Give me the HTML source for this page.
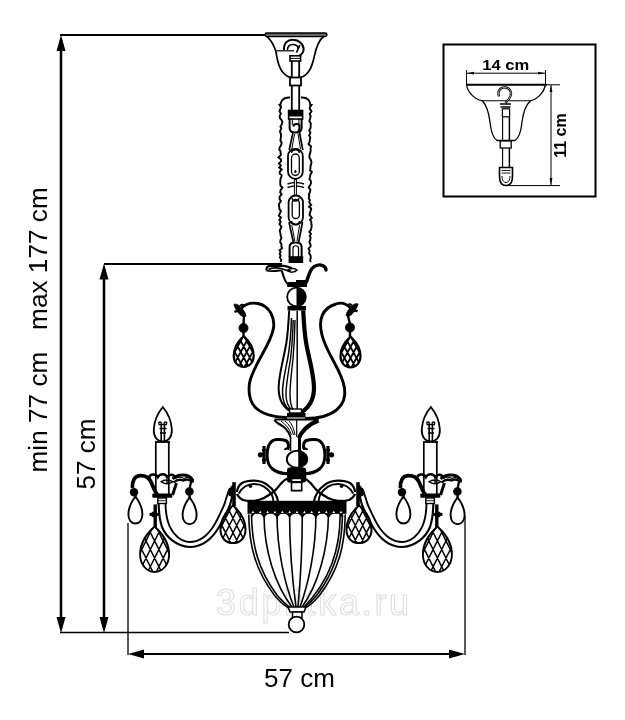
<!DOCTYPE html>
<html><head><meta charset="utf-8">
<style>
html,body{margin:0;padding:0;background:#fff;width:625px;height:720px;overflow:hidden}
svg{display:block;will-change:transform}
text{font-family:"Liberation Sans",sans-serif}
</style></head>
<body>
<svg width="625" height="720" viewBox="0 0 625 720">
<defs>
  <pattern id="hatch" patternUnits="userSpaceOnUse" width="4.8" height="6.6">
    <rect width="4.8" height="6.6" fill="#fff"/>
    <path d="M-0.5,-0.7 L5.3,7.3 M5.3,-0.7 L-0.5,7.3" stroke="#000" stroke-width="1.35"/>
  </pattern>
  <clipPath id="cpine"><path d="M0,-23 C8,-16 14.5,-6 14.5,5 C14.5,15 8,22.5 0,22.5 C-8,22.5 -14.5,15 -14.5,5 C-14.5,-6 -8,-16 0,-23 Z"/></clipPath>
  <clipPath id="cpineS"><path d="M0,-16 C5.5,-11 10,-4 10,3.5 C10,10.5 5.5,15 0,15 C-5.5,15 -10,10.5 -10,3.5 C-10,-4 -5.5,-11 0,-16 Z"/></clipPath>
  <g id="pine">
    <g clip-path="url(#cpine)"><path d="M-20.00,89.00 L20.00,169.00 M-20.00,-89.00 L20.00,-169.00 M-20.00,71.80 L20.00,151.80 M-20.00,-71.80 L20.00,-151.80 M-20.00,54.60 L20.00,134.60 M-20.00,-54.60 L20.00,-134.60 M-20.00,37.40 L20.00,117.40 M-20.00,-37.40 L20.00,-117.40 M-20.00,20.20 L20.00,100.20 M-20.00,-20.20 L20.00,-100.20 M-20.00,3.00 L20.00,83.00 M-20.00,-3.00 L20.00,-83.00 M-20.00,-14.20 L20.00,65.80 M-20.00,14.20 L20.00,-65.80 M-20.00,-31.40 L20.00,48.60 M-20.00,31.40 L20.00,-48.60 M-20.00,-48.60 L20.00,31.40 M-20.00,48.60 L20.00,-31.40 M-20.00,-65.80 L20.00,14.20 M-20.00,65.80 L20.00,-14.20 M-20.00,-83.00 L20.00,-3.00 M-20.00,83.00 L20.00,3.00 M-20.00,-100.20 L20.00,-20.20 M-20.00,100.20 L20.00,20.20 M-20.00,-117.40 L20.00,-37.40 M-20.00,117.40 L20.00,37.40 M-20.00,-134.60 L20.00,-54.60 M-20.00,134.60 L20.00,54.60 M-20.00,-151.80 L20.00,-71.80 M-20.00,151.80 L20.00,71.80 M-20.00,-169.00 L20.00,-89.00 M-20.00,169.00 L20.00,89.00 M-20.00,-186.20 L20.00,-106.20 M-20.00,186.20 L20.00,106.20" stroke="#000" stroke-width="1.5" fill="none"/></g>
    <path d="M0,-23 C8,-16 14.5,-6 14.5,5 C14.5,15 8,22.5 0,22.5 C-8,22.5 -14.5,15 -14.5,5 C-14.5,-6 -8,-16 0,-23 Z" fill="none" stroke="#000" stroke-width="1.9"/>
  </g>
  <g id="pineS">
    <g clip-path="url(#cpineS)"><path d="M-15.00,55.00 L15.00,110.00 M-15.00,-55.00 L15.00,-110.00 M-15.00,44.00 L15.00,99.00 M-15.00,-44.00 L15.00,-99.00 M-15.00,33.00 L15.00,88.00 M-15.00,-33.00 L15.00,-88.00 M-15.00,22.00 L15.00,77.00 M-15.00,-22.00 L15.00,-77.00 M-15.00,11.00 L15.00,66.00 M-15.00,-11.00 L15.00,-66.00 M-15.00,0.00 L15.00,55.00 M-15.00,0.00 L15.00,-55.00 M-15.00,-11.00 L15.00,44.00 M-15.00,11.00 L15.00,-44.00 M-15.00,-22.00 L15.00,33.00 M-15.00,22.00 L15.00,-33.00 M-15.00,-33.00 L15.00,22.00 M-15.00,33.00 L15.00,-22.00 M-15.00,-44.00 L15.00,11.00 M-15.00,44.00 L15.00,-11.00 M-15.00,-55.00 L15.00,0.00 M-15.00,55.00 L15.00,0.00 M-15.00,-66.00 L15.00,-11.00 M-15.00,66.00 L15.00,11.00 M-15.00,-77.00 L15.00,-22.00 M-15.00,77.00 L15.00,22.00 M-15.00,-88.00 L15.00,-33.00 M-15.00,88.00 L15.00,33.00 M-15.00,-99.00 L15.00,-44.00 M-15.00,99.00 L15.00,44.00 M-15.00,-110.00 L15.00,-55.00 M-15.00,110.00 L15.00,55.00 M-15.00,-121.00 L15.00,-66.00 M-15.00,121.00 L15.00,66.00" stroke="#000" stroke-width="1.8" fill="none"/></g>
    <path d="M0,-16 C5.5,-11 10,-4 10,3.5 C10,10.5 5.5,15 0,15 C-5.5,15 -10,10.5 -10,3.5 C-10,-4 -5.5,-11 0,-16 Z" fill="none" stroke="#000" stroke-width="2.2"/>
  </g>
  <clipPath id="cpineM"><path d="M0,-20 C7,-14 12.5,-5.5 12.5,4 C12.5,12.5 7,17.5 0,17.5 C-7,17.5 -12.5,12.5 -12.5,4 C-12.5,-5.5 -7,-14 0,-20 Z"/></clipPath>
  <g id="pineM">
    <g clip-path="url(#cpineM)"><path d="M-18.00,73.99 L18.00,145.01 M-18.00,-73.99 L18.00,-145.01 M-18.00,59.39 L18.00,130.41 M-18.00,-59.39 L18.00,-130.41 M-18.00,44.79 L18.00,115.81 M-18.00,-44.79 L18.00,-115.81 M-18.00,30.19 L18.00,101.21 M-18.00,-30.19 L18.00,-101.21 M-18.00,15.59 L18.00,86.61 M-18.00,-15.59 L18.00,-86.61 M-18.00,0.99 L18.00,72.01 M-18.00,-0.99 L18.00,-72.01 M-18.00,-13.61 L18.00,57.41 M-18.00,13.61 L18.00,-57.41 M-18.00,-28.21 L18.00,42.81 M-18.00,28.21 L18.00,-42.81 M-18.00,-42.81 L18.00,28.21 M-18.00,42.81 L18.00,-28.21 M-18.00,-57.41 L18.00,13.61 M-18.00,57.41 L18.00,-13.61 M-18.00,-72.01 L18.00,-0.99 M-18.00,72.01 L18.00,0.99 M-18.00,-86.61 L18.00,-15.59 M-18.00,86.61 L18.00,15.59 M-18.00,-101.21 L18.00,-30.19 M-18.00,101.21 L18.00,30.19 M-18.00,-115.81 L18.00,-44.79 M-18.00,115.81 L18.00,44.79 M-18.00,-130.41 L18.00,-59.39 M-18.00,130.41 L18.00,59.39 M-18.00,-145.01 L18.00,-73.99 M-18.00,145.01 L18.00,73.99 M-18.00,-159.61 L18.00,-88.59 M-18.00,159.61 L18.00,88.59" stroke="#000" stroke-width="1.5" fill="none"/></g>
    <path d="M0,-20 C7,-14 12.5,-5.5 12.5,4 C12.5,12.5 7,17.5 0,17.5 C-7,17.5 -12.5,12.5 -12.5,4 C-12.5,-5.5 -7,-14 0,-20 Z" fill="none" stroke="#000" stroke-width="2"/>
  </g>
  <g id="drop">
    <path d="M0,0 C3,4 7,11 7,18 C7,23.5 4,27 0,27 C-4,27 -7,23.5 -7,18 C-7,11 -3,4 0,0 Z" fill="#fff" stroke="#000" stroke-width="1.9"/>
    <path d="M0,-2 L0,2" stroke="#000" stroke-width="2.4"/>
  </g>
  <g id="fleur">
    <path d="M0,-7 L0,7 M-4,0 L4,0" stroke="#000" stroke-width="2.2"/>
    <circle cx="0" cy="-3" r="2" fill="#000"/>
  </g>
</defs>

<!-- watermark -->
<text x="216" y="614.5" font-size="36" fill="none" stroke="#e0e0e0" stroke-width="1.1" letter-spacing="2.7">3dplitka.ru</text>

<!-- ===== dimension lines ===== -->
<g stroke="#000" fill="none">
  <line x1="60" y1="35" x2="266" y2="35" stroke-width="2"/>
  <line x1="61" y1="40" x2="61" y2="628" stroke-width="2.5"/>
  <line x1="104" y1="264" x2="282" y2="264" stroke-width="2"/>
  <line x1="104" y1="270" x2="104" y2="628" stroke-width="2.5"/>
  <line x1="60" y1="632.5" x2="289" y2="632.5" stroke-width="1.3"/>
  <line x1="128" y1="523" x2="128" y2="655" stroke-width="1.3"/>
  <line x1="465" y1="516" x2="465" y2="655" stroke-width="1.3"/>
  <line x1="135" y1="654" x2="458" y2="654" stroke-width="2.2"/>
</g>
<g fill="#000">
  <path d="M61,35 L65.5,51 L56.5,51 Z"/>
  <path d="M61,633 L65.5,617 L56.5,617 Z"/>
  <path d="M104,263.5 L108.5,279.5 L99.5,279.5 Z"/>
  <path d="M104,633 L108.5,617 L99.5,617 Z"/>
  <path d="M128,654 L144,649.5 L144,658.5 Z"/>
  <path d="M465,654 L449,649.5 L449,658.5 Z"/>
</g>

<!-- dimension texts -->
<text transform="translate(46.8,472.5) rotate(-90)" font-size="26.2" fill="#000" xml:space="preserve">min 77 cm   max 177 cm</text>
<text transform="translate(94.9,489.5) rotate(-90)" font-size="26" fill="#000">57 cm</text>
<text x="264" y="687" font-size="26" fill="#000">57 cm</text>

<!-- ===== inset box ===== -->
<rect x="443.5" y="44.5" width="152" height="152" fill="none" stroke="#000" stroke-width="2"/>
<text x="482.3" y="70.3" font-size="15" font-weight="bold" fill="#000" textLength="47" lengthAdjust="spacingAndGlyphs">14 cm</text>
<g stroke="#000" fill="none" stroke-width="1">
  <line x1="466.5" y1="70" x2="466.5" y2="84"/>
  <line x1="545.5" y1="70" x2="545.5" y2="84"/>
  <line x1="467" y1="73.2" x2="545" y2="73.2"/>
  <line x1="545" y1="84.8" x2="560" y2="84.8"/>
  <line x1="506" y1="185.6" x2="560" y2="185.6"/>
  <line x1="551" y1="85" x2="551" y2="185"/>
</g>
<g fill="#000">
  <path d="M467,73.2 L474,71.8 L474,74.6Z"/>
  <path d="M545,73.2 L538,71.8 L538,74.6Z"/>
  <path d="M551,85 L549.6,92 L552.4,92Z"/>
  <path d="M551,185 L549.6,178 L552.4,178Z"/>
</g>
<text transform="translate(566,157.8) rotate(-90)" font-size="16" font-weight="bold" fill="#000" textLength="44.5" lengthAdjust="spacingAndGlyphs">11 cm</text>
<!-- inset canopy -->
<g stroke="#000" fill="none" stroke-width="1.3">
  <line x1="466" y1="84.8" x2="547" y2="84.8" stroke-width="2"/>
  <path d="M466.6,85 C467.5,92 474,99 482.4,100.8 C487,106 489,114 490,122 C491,132 493,138 497,140.5 L515,140.5 C519,138 521,132 522,122 C523,114 525,106 530.4,100.8 C538,99 544,92 545.5,85"/>
  <line x1="482.4" y1="100.8" x2="530.4" y2="100.8" stroke-width="1.1"/>
  <path d="M499,96.5 C497,90 501,87 505.5,87.5 C510,88 512,92 510.5,96 C509.5,99 507,101 505.5,103" stroke-width="2.3"/>
  <path d="M499,96.5 C497,90 501,87 505.5,87.5 C510,88 512,92 510.5,96 C509.5,99 507,101 505.5,103" stroke="#fff" stroke-width="0.6"/>
  <path d="M500,104 L511,104 M500.5,107 L510.5,107" stroke-width="1.5"/>
  <rect x="502.4" y="108.8" width="7.2" height="8" fill="#fff" stroke-width="1.2"/>
  <line x1="502.6" y1="117" x2="502.6" y2="141" stroke-width="1.1"/>
  <line x1="509.4" y1="117" x2="509.4" y2="141" stroke-width="1.5"/>
  <rect x="500.2" y="141" width="11" height="7" fill="#fff" stroke-width="1.3"/>
  <line x1="502.6" y1="148" x2="502.6" y2="167.5" stroke-width="1.1"/>
  <line x1="509.4" y1="148" x2="509.4" y2="167.5" stroke-width="1.5"/>
  <path d="M499.5,167.5 L499.5,176 C499.5,182 502,185.5 506,185.5 C510,185.5 512.5,182 512.5,176 L512.5,167.5 Z" fill="#fff" stroke-width="1.6"/>
  <path d="M502,176 C502,180 503.5,182.5 506,182.5 C508.5,182.5 510,180 510,176" stroke-width="1"/>
  <path d="M501.5,170.5 L510.5,170.5 M501.5,173 L510.5,173" stroke-width="0.9"/>
</g>

<!-- ===== chandelier ===== -->
<!-- canopy -->
<g stroke="#000" fill="none">
  <rect x="265" y="33" width="62" height="3.6" rx="1.8" fill="#666" stroke-width="1.3"/>
  <path d="M267,36.6 C271,40 274,45 276,52 C277,58 278,66 282,71.2 C285,75 288,77 291,77.5 M323.5,36.8 C319,40 316.5,46 314.5,55.6 C313,62 312,67 309,71 C306.5,74.5 303.5,77 300.5,77.5" stroke-width="1.7"/>
  <path d="M284,50 C283.5,43 288,39.5 293,39.8 C299,40 303.8,44 303.6,49.5 C303.4,52.5 301.5,54.5 299.5,55.5" stroke-width="2"/>
  <path d="M287.5,50 C287.5,46 290,44.5 292.8,44.5 C296,44.5 298,46.5 298.5,49" stroke-width="1.5"/>
  <path d="M299.8,45 L296.5,52.5" stroke-width="1.8"/>
  <line x1="276" y1="50.8" x2="294" y2="50.8" stroke-width="1.2"/>
  <rect x="290" y="55.8" width="10.6" height="5.2" stroke-width="1.6" fill="#fff"/>
  <line x1="290" y1="58.4" x2="300.6" y2="58.4" stroke-width="1"/>
  <line x1="291.8" y1="61" x2="291.8" y2="77.5" stroke-width="1.8"/>
  <line x1="299.2" y1="61" x2="299.2" y2="77.5" stroke-width="1.8"/>
  <rect x="290" y="77.5" width="11" height="8" stroke-width="1.8" fill="#fff"/>
  <line x1="291.8" y1="85.5" x2="291.8" y2="110.5" stroke-width="1.8"/>
  <line x1="299.2" y1="85.5" x2="299.2" y2="110.5" stroke-width="1.8"/>
</g>
<!-- sleeve -->
<path d="M290,97.5 C286.5,97.3 283.5,98.5 282,100.5 C281,102 280.5,103.5 280.5,105 L279.7,105.0 L281.1,107.2 L280.2,109.2 L279.5,111.4 L280.9,113.5 L279.7,115.9 L279.8,117.8 L281.6,120.2 L282.4,121.9 L281.7,124.4 L280.4,126.7 L281.4,128.3 L280.5,129.9 L280.0,131.8 L280.9,133.8 L281.0,136.3 L280.7,138.5 L280.4,140.8 L281.7,142.7 L281.1,145.3 L279.5,147.6 L279.3,149.4 L280.5,151.1 L280.6,153.1 L280.9,155.0 L278.4,157.5 L280.8,159.3 L281.1,161.4 L278.9,163.4 L280.9,165.6 L279.2,167.5 L281.7,169.4 L279.7,171.8 L279.8,173.6 L281.7,175.3 L281.2,177.0 L280.4,179.1 L280.3,181.4 L280.3,183.7 L280.5,185.7 L282.5,187.6 L280.6,190.0 L280.2,192.4 L281.7,194.4 L279.6,196.7 L279.6,199.3 L280.9,201.1 L279.5,203.1 L278.9,204.7 L279.2,206.9 L279.4,209.1 L280.9,211.2 L279.9,213.3 L278.9,215.7 L280.9,217.5 L279.3,219.9 L280.7,221.7 L279.5,224.2 L281.5,226.8 L280.5,229.0 L279.7,230.7 L280.4,233.2 L280.6,235.5 L281.5,238.0 L280.5,239.9 L280.2,242.2 L281.4,244.0 L281.4,246.5 L282.1,248.3 L279.6,250.2 L280.6,252.0 L279.7,253.7 L280.6,255.6 L279.9,257.4 L281.3,259.9 L280.5,262.0 M301,97.5 C304.5,97.3 307.5,98.5 309,100.5 C310,102 310.2,103.5 310.2,105 L311.4,105.0 L310.0,107.2 L309.7,108.8 L311.5,111.3 L309.7,113.9 L310.7,116.1 L310.1,118.5 L309.3,121.1 L310.8,123.2 L310.6,125.7 L310.6,128.0 L309.2,130.5 L310.5,132.8 L309.2,135.3 L310.3,137.7 L309.8,139.8 L309.7,141.8 L308.5,144.0 L311.0,146.3 L310.5,148.8 L310.7,150.7 L310.2,152.9 L309.4,155.4 L309.5,157.7 L310.8,159.9 L311.4,161.7 L311.3,163.8 L310.4,166.4 L310.5,168.0 L310.1,170.3 L311.9,172.0 L310.5,174.3 L310.0,176.8 L309.5,179.0 L310.9,181.1 L310.9,183.6 L309.9,185.6 L308.7,187.5 L310.4,189.6 L310.0,192.0 L308.8,194.6 L309.3,196.3 L308.7,198.2 L309.9,200.2 L309.2,202.3 L311.2,204.8 L309.0,206.8 L311.2,208.5 L310.9,210.1 L310.1,212.3 L309.5,214.7 L310.7,216.4 L311.8,218.0 L310.0,219.9 L311.3,221.5 L311.3,223.5 L311.7,225.8 L311.3,228.4 L310.7,230.2 L309.3,231.9 L311.0,234.0 L309.7,235.8 L310.6,237.7 L310.2,239.9 L309.4,242.2 L310.6,244.6 L310.6,246.3 L308.5,248.6 L309.7,250.7 L309.1,253.2 L310.5,255.3 L310.8,257.7 L310.2,259.8 L310.5,261.6 L310.2,262.0" fill="none" stroke="#000" stroke-width="1.9" stroke-linejoin="miter"/>
<g stroke="#000" fill="none">
  <!-- top connector -->
  <rect x="288.6" y="110.5" width="14" height="8.5" fill="#fff" stroke-width="1.6"/>
  <rect x="288.2" y="110.2" width="14.8" height="6.3" fill="#000" stroke="none"/>
  <!-- U bracket -->
  <path d="M289.6,119 L289.6,128 C289.6,131 292,132.5 295.5,132.5 C299,132.5 301.6,131 301.6,128 L301.6,119" stroke-width="2"/>
  <path d="M292.3,119 L292.3,125" stroke-width="1"/>
  <path d="M298.9,119 L298.9,125" stroke-width="1"/>
  <path d="M293.5,126.5 C293.5,123.5 299,123 299.5,126 C300,129 298.5,131 297.5,133" stroke-width="2"/>
  <!-- tapered link 1 -->
  <path d="M293,132.5 L289.2,150 M299.5,132.5 L302.8,150" stroke-width="1.7"/>
  <path d="M294.6,134 L291.8,149 M298,134 L300.5,149" stroke-width="1"/>
  <!-- link 1 -->
  <rect x="288" y="148.8" width="14.8" height="30" rx="7.2" stroke-width="1.8"/>
  <rect x="291.5" y="154" width="7.8" height="21.5" rx="3.9" stroke-width="1.3"/>
  <path d="M291.5,153 C292,148.5 299,148.5 299.5,153" stroke-width="1.5"/>
  <ellipse cx="295.4" cy="171.5" rx="1.1" ry="1.6" fill="#000" stroke="none"/>
  <!-- cross bar -->
  <path d="M287.5,184 Q295.5,181 304,184 M287.5,187.5 Q295.5,184.5 304,187.5" stroke-width="1.5"/>
  <line x1="295.4" y1="178" x2="295.4" y2="196" stroke-width="3"/>
  <line x1="295.4" y1="180" x2="295.4" y2="195" stroke="#fff" stroke-width="1"/>
  <!-- link 2 -->
  <rect x="288.6" y="195.5" width="14.4" height="28.8" rx="7" stroke-width="1.8"/>
  <rect x="292.2" y="199.5" width="7.2" height="19" rx="3.6" stroke-width="1.3"/>
  <path d="M292,198 C292.5,202 298.5,202 299,198" stroke-width="1.4"/>
  <!-- tapered link 2 -->
  <path d="M289,222 L293.5,243 M302.5,222 L298.5,243" stroke-width="1.7"/>
  <path d="M291.8,225 L294.8,241 M299.5,225 L297,241" stroke-width="1"/>
  <path d="M291.5,221 C292,226 299,226 299.5,221" stroke-width="1.5"/>
  <!-- bottom U bracket -->
  <path d="M289.6,257 L289.6,247 C289.6,244 292,242.6 295.5,242.6 C299,242.6 301.6,244 301.6,247 L301.6,257" stroke-width="2"/>
  <path d="M293,248 C293,245 298.5,245 298.5,248 L298.5,257 M293,248 L293,257" stroke-width="1.2"/>
  <rect x="288.6" y="256.2" width="14.6" height="6.8" fill="#000" stroke="none"/>
</g>

<!-- leaf cup -->
<g stroke="#000" fill="none">
  <path d="M266.5,270.5 C266,267 268,265.8 271,265.8 L284,265.8 C288,266 290,268 292,268" stroke-width="2.2"/>
  <path d="M268.5,269.5 C272,267.5 278,267.5 281,268.5 C284,269.5 286,271 291,271" stroke-width="1.6"/>
  <path d="M266.5,270.5 C270,272 276,271 281.5,270.3" stroke-width="1.8"/>
  <path d="M281.5,270.3 C283,274 284,279 286,282 C287,283.5 288,284.5 289,285" stroke-width="2"/>
  <path d="M287,270.5 C290,268 295,268 297,270 C295,272.5 290,273 287,270.5 Z" stroke-width="1.5"/>
  <path d="M306.5,282 C308,277 309.5,272 312,268.5 C315,265 319.5,264.5 322.5,265.5 C325,266.5 326,268.5 326,270" stroke-width="3.4" stroke-linecap="round"/>
</g>
<path d="M287.2,282 L296,282 L296,280 L307,280 L307,287 L287.2,287 Z" fill="#000"/>
<!-- upper sphere -->
<circle cx="296.5" cy="297" r="9.3" fill="#fff" stroke="#000" stroke-width="1.8"/>
<path d="M296.5,287.7 A9.3,9.3 0 0 1 296.5,306.3 Z" fill="#000"/>

<!-- vase -->
<g stroke="#000" fill="none">
  <path d="M289.2,310.5 C288.5,322 288,332 286.5,342 C284.5,355 280.5,368 279,382 C277.5,395 280,405 290,411" stroke-width="2"/>
  <path d="M303.2,310.5 C303.8,322 304.3,332 306,342 C308,355 312.5,368 313.8,384 C315,398 310,407 301,412.5" stroke-width="4.2"/>
  <path d="M291.5,318 C291,333 290,345 288,357 C285.5,370 282.5,382 282.5,392 C282.5,402 285,407 290,410" stroke-width="1.5"/>
  <path d="M293.2,320 C292.7,335 292,347 290.5,359 C288.5,372 286,384 286,394 C286,402 288,407 292,410" stroke-width="1.4"/>
  <path d="M295,320 C294.7,335 294,347 293,359 C291.5,372 290,384 290,394 C290,402 291,407 293.5,410" stroke-width="1.4"/>
  <line x1="297.2" y1="311" x2="297.2" y2="411" stroke-width="1.5"/>
</g>
<rect x="287.5" y="306" width="18.5" height="4.5" fill="#000"/>
<rect x="287" y="413" width="18.5" height="4.5" fill="#000"/>
<rect x="289.5" y="409" width="12" height="4" fill="#fff" stroke="#000" stroke-width="1.4"/>

<!-- S arms upper -->
<g stroke="#000" fill="none" stroke-width="2.9">
  <path d="M241,308.5 C246,303 252,302.5 258,303.5 C270,306 275,318 273.5,328 C271,345 253,365 249.5,383 C247,402 254,416.5 287,417.5"/>
  <path d="M351,308.5 C346,303 340,302.5 336,304 C322,308 318,320 322,335 C327,355 342,370 344.5,388 C347,405 335,418.5 305,418.5"/>
</g>
<g fill="#000" stroke="#000">
  <path d="M234,304.5 C236,303.5 239,305 241,307.5 C243.5,310 245.5,313 246,316 C244,317.5 241,316 239.5,314 C237,311 234.5,307.5 234,304.5 Z" stroke-width="1"/>
  <path d="M234.5,312 C236,311 238.5,311 240,312.5 M240,306 C241,304.5 243,304.5 244,305.5" stroke-width="2.2" fill="none"/>
  <path d="M358,304 C356,303 353,304.5 351,307 C348.5,309.5 346.5,312.5 346,315.5 C348,317 351,315.5 352.5,313.5 C355,310.5 357.5,307 358,304 Z" stroke-width="1"/>
  <path d="M357.5,311.5 C356,310.5 353.5,310.5 352,312 M352,305.5 C351,304 349,304 348,305" stroke-width="2.2" fill="none"/>
  <circle cx="243.5" cy="328" r="4.5"/>
  <circle cx="350" cy="327.5" r="4.5"/>
  <line x1="244" y1="316" x2="243.5" y2="324" stroke-width="2.4"/>
  <line x1="348" y1="316" x2="350" y2="324" stroke-width="2.4"/>
  <line x1="243.5" y1="331" x2="243.5" y2="337" stroke-width="2.4"/>
  <line x1="350" y1="331" x2="350" y2="337" stroke-width="2.4"/>
</g>
<use href="#pineS" transform="translate(243.7,352)"/>
<use href="#pineS" transform="translate(350.5,352.5)"/>

<!-- funnel -->
<g stroke="#000" fill="none">
  <path d="M274.5,419.5 L318.5,419.5" stroke-width="1.8"/>
  <path d="M274.5,420 C276,423 281,425 285,428 C288,431 289.5,434 290.5,437" stroke-width="2"/>
  <path d="M278,422.5 C283,425 287,429 289.5,434 M281,421 C286,424.5 289.5,429 291.5,435 M285,421 C289,424 292,429 293.5,435 M289,421 C292,424 294,429 295,435" stroke-width="1"/>
  <line x1="296.7" y1="419.5" x2="296.7" y2="437" stroke-width="1.2"/>
  <path d="M318.5,420.5 C313,422.5 309,425 305,429 C302,432 300,435 299,438" stroke-width="4.2"/>
</g>
<!-- lower scroll & sphere -->
<g id="scrollL" stroke="#000" fill="none">
  <path d="M287.5,449.5 C289,447 289,442 285.5,440.5 C283,439.5 280,439.3 277,439.5 C270.5,440 267.3,446 267.1,454.9 C267,461 269,466 272.5,469 C276,472 281,473.5 288,473.8" stroke-width="3"/>
  <path d="M287.5,449.5 C286.5,448 285,448.5 285,450" stroke-width="2"/>
  <path d="M264,446 L264,464" stroke-width="3.2"/>
  <path d="M262,450 L266,450 M262,460 L266,460" stroke-width="2"/>
  <circle cx="260.4" cy="454.8" r="2.6" fill="#000" stroke="none"/>
  <!-- lower loops -->
  <path d="M236.9,492 C237.5,488 239,485 242,483 C245.5,481 250,480.5 254.2,480.6 C259,480.8 263.5,482 267,484.7 C270.5,487.2 273,490 274.5,492.5 C276.5,495.5 277.7,498 278.2,502" stroke-width="2.2"/>
  <path d="M238.8,493.5 C240.5,490.5 242.5,488 245,486.5 C248,484.7 251,484 254.2,484 C258,484 261.5,485 264,486.6 C267,488.6 270,491.5 271.5,494 C272.8,496.5 273.3,498.5 273.5,502" stroke-width="1.9"/>
  <path d="M236.9,494 C238.5,497 240.5,499 243,500 C246.5,501 250.5,501 254.2,500.8 C258,500.5 261,499.5 264,498 C267.5,496 270.5,494 273.4,492 C276.5,489.5 279,486 281,483.5 C283.5,480.5 286,479 289,477.8" stroke-width="2.3"/>
  <circle cx="250.4" cy="486.3" r="1.7" fill="#000" stroke="none"/>
  <!-- candle arm -->
  <path d="M158.6,502 C158.8,512 159.5,520 162,527 C166,537 176,546 189.5,547 C202,547 212,539 219,527 C223,520 227,512 230,505 C231.5,500 232.5,495 233.5,491" stroke-width="2.1"/>
  <path d="M165.5,502 C165.5,511 166.5,519 169.5,526 C173.5,535 181,541.5 189.5,542 C199,542 207,536 213,527 C217.5,520 221,512 224.5,504 C226,499 227.5,494 229,490" stroke-width="1.9"/>
  <!-- arm end fleur -->
  <path d="M234,482.2 L234,506" stroke-width="3.6"/>
  <path d="M229.5,492 C228.5,489.5 230,488.5 232,489 C231,487 233,486 234,487.5 M229.5,492 C228.5,494.5 230,495.5 232,495" stroke-width="2.6"/>
  <circle cx="231.5" cy="492" r="2.6" fill="#000" stroke="none"/>
  <!-- hanging pine fleur -->
  <path d="M155.2,504.4 L155.2,528" stroke-width="3.4"/>
  <path d="M149.6,514.4 L160,514.4" stroke-width="3"/>
  <circle cx="154" cy="514.4" r="2.8" fill="#000" stroke="none"/>
  <use href="#pine" transform="translate(154.6,549.5)"/>
  <use href="#pineM" transform="translate(233,525.5)"/>
</g>
<use href="#scrollL" transform="translate(592,0) scale(-1,1)"/>

<!-- funnel neck, sphere & block -->
<path d="M290.5,437 L290.5,451" stroke="#000" stroke-width="1.6"/>
<path d="M299.5,437 L299.5,451" stroke="#000" stroke-width="3"/>
<ellipse cx="297" cy="459.2" rx="10.2" ry="8.4" fill="#fff" stroke="#000" stroke-width="1.9"/>
<path d="M298.5,450.9 A10.2,8.4 0 0 1 298.5,467.5 Z" fill="#000"/>
<path d="M298.5,450.8 C303,451.5 307,455 307.2,459.2 C307,463.5 303,467 298.5,467.6 Z" fill="#000"/>
<path d="M287,470 C287,468 288.5,467.2 291,467.2 L302,467.2 C304.5,467.2 306.2,468 306.2,470 L306.2,480 C306.2,482 305,482.5 303,482.5 L290,482.5 C288,482.5 287,482 287,480 Z" fill="#000"/>
<path d="M291.5,478.4 L301.7,478.4 L301.7,490.6 L291.5,490.6 Z" fill="#fff" stroke="#000" stroke-width="1.6"/>
<rect x="290.7" y="481" width="11.8" height="2.2" fill="#000"/>

<!-- bowl -->
<rect x="247.5" y="500.8" width="99" height="13" fill="#000"/>
<g fill="#fff"><path d="M252.9,510.8 L251.6,513 L254.2,513 Z"/><path d="M260.2,510.8 L258.9,513 L261.6,513 Z"/><path d="M267.6,510.8 L266.3,513 L268.9,513 Z"/><path d="M274.9,510.8 L273.6,513 L276.2,513 Z"/><path d="M282.3,510.8 L281.0,513 L283.6,513 Z"/><path d="M289.6,510.8 L288.3,513 L290.9,513 Z"/><path d="M297.0,510.8 L295.7,513 L298.3,513 Z"/><path d="M304.4,510.8 L303.1,513 L305.7,513 Z"/><path d="M311.7,510.8 L310.4,513 L313.0,513 Z"/><path d="M319.1,510.8 L317.8,513 L320.4,513 Z"/><path d="M326.4,510.8 L325.1,513 L327.7,513 Z"/><path d="M333.8,510.8 L332.4,513 L335.1,513 Z"/><path d="M341.1,510.8 L339.8,513 L342.4,513 Z"/></g>
<g fill="#000"><path d="M251.5,513.5 L251.5,520 A6.2,6.5 0 0 1 257.8,513.5 Z"/><path d="M257.8,513.5 A6.2,6.5 0 0 1 264.0,520.0 A6.5,6.5 0 0 1 270.5,513.5 Z"/><path d="M270.5,513.5 A6.5,6.5 0 0 1 277.0,520.0 A6.3,6.5 0 0 1 283.3,513.5 Z"/><path d="M283.3,513.5 A6.3,6.5 0 0 1 289.6,520.0 A6.3,6.5 0 0 1 296.0,513.5 Z"/><path d="M296.0,513.5 A6.3,6.5 0 0 1 302.3,520.0 A6.5,6.5 0 0 1 308.8,513.5 Z"/><path d="M309.4,513.5 A6.5,6.5 0 0 1 315.9,520.0 A6.3,6.5 0 0 1 322.2,513.5 Z"/><path d="M322.2,513.5 A6.3,6.5 0 0 1 328.5,520.0 A6.5,6.5 0 0 1 335.0,513.5 Z"/><path d="M336.0,513.5 A6.5,6.5 0 0 1 342.5,520.0 L342.5,513.5 Z"/></g>
<g stroke="#000" fill="none" stroke-width="1.6">
  <path d="M248.8,514.5 C249,545 255,570 275,596 C281,603 285,607 290,608"/>
  <path d="M251.5,514.5 C252,545 258,570 277,595 C283,602 287,606 291,607.5"/>
  <path d="M345.2,514.5 C345,545 339,570 319,596 C313,603 309,607 304,608"/>
  <path d="M342.5,514.5 C342,545 336,570 317,595 C311,602 307,606 303,607.5"/>
  <path d="M264,514.5 C264,550 275,585 292,607"/>
  <path d="M277,514.5 C277,550 285,585 294,607"/>
  <path d="M289.6,514.5 C289.6,550 293,585 296,607"/>
  <path d="M302.3,514.5 C302.3,550 300,585 298,607"/>
  <path d="M315.9,514.5 C316,550 308,585 300,607"/>
  <path d="M328.5,514.5 C328,550 318,585 302,607"/>
  <path d="M340.2,514.5 C340,550 330,580 304,607" />
</g>
<path d="M288,607 L306,607 L304,612 L290,612 Z" fill="#fff" stroke="#000" stroke-width="1.6"/>
<rect x="292.5" y="612" width="9.5" height="5.5" fill="#fff" stroke="#000" stroke-width="1.5"/>
<circle cx="296.5" cy="624.5" r="7.8" fill="#fff" stroke="#000" stroke-width="1.8"/>

<!-- candles + bobeches (left; right is translated copy) -->
<g id="candleL">
  <path d="M162.8,407 C159,411.5 154.5,420 153.8,429 C153.3,436.5 157,441.5 162.8,441.5 C168.6,441.5 172.3,436.5 171.8,429 C171.2,420 166.6,411.5 162.8,407 Z" fill="#fff" stroke="#000" stroke-width="1.8"/>
  <g stroke="#000" fill="none" stroke-width="1.6">
    <path d="M158.5,423.5 C159,421.5 161,421.5 161.5,423.5 M164,423.5 C164.5,421.5 166.5,421.5 167,423.5 M158.5,424.5 L167,424.5 M159.5,428.5 L166.5,428.5 M161.2,425 L161.2,441 M164.4,425 L164.4,441 M160,433 L166,433"/>
  </g>
  <path d="M155.8,442 L155.8,494 M168.8,442 L168.8,494" stroke="#000" stroke-width="1.7"/>
  <line x1="155" y1="442" x2="170" y2="442" stroke="#000" stroke-width="1.8"/>
  <!-- bobeche -->
  <g stroke="#000" fill="none">
    <path d="M132.5,488 C132,481 134.5,476 140,475.6 C145,475.3 148.5,477.5 150.5,481 C152.5,485 153.5,488 155,491 C156,493 157,494.5 158,495" stroke-width="3.8"/>
    <path d="M145.5,477 C148,478 150,480 151,483" stroke-width="1.2"/>
    <path d="M148.8,478.5 C149.5,473.8 155.5,473.2 157.8,477.2 C160,473.2 165.5,473.2 167.2,477.2 C169.5,473.5 174.5,474 175.5,478.8" stroke-width="2.5"/>
    <path d="M149.6,477.5 C151,481 152.5,486 154.5,491" stroke-width="1.4"/>
    <path d="M176.5,483 C175,487 174,491 172.6,495" stroke-width="3"/>
    <path d="M172.6,479 C175,476.5 179,475 183,475 C187,475 190.5,476.5 192.5,479.5 L192.5,482.5" stroke-width="2.8"/>
    <path d="M173.5,482.5 C176.5,479.8 180,479 183.5,480.5 C186.5,479 190,479.5 192.5,482.5" stroke-width="2.3"/>
    <path d="M175.5,478.2 C178.5,477 181.5,477 184,478.5 M184,478.5 C186.5,477.3 189,477.5 190.5,479" stroke-width="1.1"/>
    <path d="M161,481.8 C164,479.3 169.5,479.3 173,481.8 C169.5,484.3 164,484.3 161,481.8 Z M167,479.8 L167,484" stroke-width="1.4"/>
  </g>
  <rect x="152.3" y="493.5" width="20" height="4.2" rx="1" fill="#000"/>
  <rect x="157.8" y="498" width="8.6" height="5.5" fill="#fff" stroke="#000" stroke-width="1.4"/>
  <line x1="157.8" y1="500.7" x2="166.4" y2="500.7" stroke="#000" stroke-width="0.9"/>
  <!-- beads & drops -->
  <circle cx="134" cy="492.3" r="4.2" fill="#000"/>
  <circle cx="189.4" cy="491.5" r="4.3" fill="#000"/>
  <path d="M191,481.5 L189.6,489" stroke="#000" stroke-width="2.2"/>
  <use href="#drop" transform="translate(135.4,496.5)"/>
  <use href="#drop" transform="translate(189.6,497.2)"/>
</g>
<use href="#candleL" transform="translate(268,0)"/>

</svg>
</body></html>
